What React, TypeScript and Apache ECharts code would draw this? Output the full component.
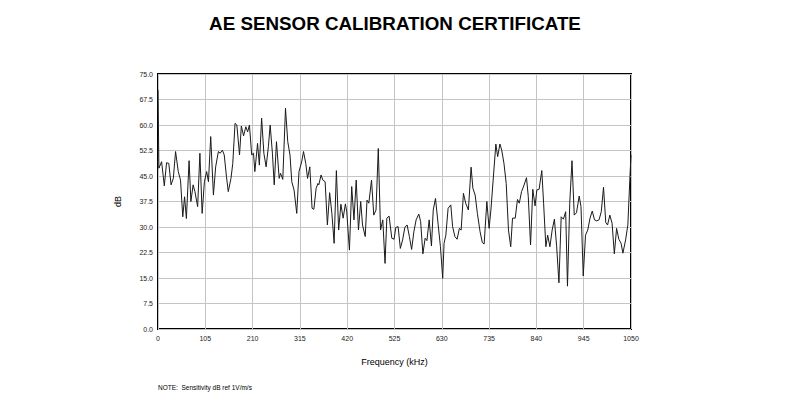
import React, { useEffect, useRef } from "react";
import * as echarts from "echarts";

const titleText = "AE SENSOR CALIBRATION CERTIFICATE";
const noteText = "NOTE:  Sensitivity dB ref 1V/m/s";
const xAxisName = "Frequency (kHz)";
const yAxisName = "dB";

const freqs: number[] = [
  0, 2, 8, 14, 19, 24, 29, 34, 39, 45, 50, 55, 59, 63, 69, 73, 78, 82, 88, 93, 98, 103, 108, 112, 117, 123, 128, 134, 138, 143, 147, 152, 156, 162, 166, 171, 175, 181, 185, 190, 195, 199, 203, 208, 212,
  215, 221, 225, 230, 235, 240, 245, 249, 254, 258, 263, 269, 272, 277, 283, 288, 293, 297, 302, 308, 313, 319, 323, 328, 332, 337, 342, 346, 351, 355, 357, 362, 366, 371, 376, 381, 386, 391, 396, 401, 406, 411, 416,
  419, 425, 430, 435, 440, 445, 450, 454, 460, 464, 468, 474, 479, 484, 489, 494, 499, 504, 508, 513, 519, 524, 528, 533, 538, 543, 548, 553, 558, 563, 568, 573, 579, 583, 588, 593, 597, 602, 607, 611, 616, 622, 627,
  632, 635, 639, 644, 650, 654, 659, 664, 669, 673, 678, 683, 689, 695, 699, 704, 709, 715, 720, 724, 730, 735, 739, 744, 750, 754, 759, 763, 768, 773, 778, 783, 787, 793, 798, 802, 807, 812, 818, 822, 827, 832, 837,
  841, 846, 852, 856, 861, 865, 870, 875, 880, 885, 890, 895, 900, 905, 909, 914, 919, 924, 929, 935, 939, 944, 949, 954, 959, 964, 969, 974, 979, 984, 989, 994, 998, 1003, 1008, 1013, 1018, 1023, 1028, 1032, 1038, 1043, 1048, 1050,
];

const sensitivity: number[] = [
  70.3, 47.3, 49.2, 42.1, 48.9, 48.7, 42.4, 44.3, 52.2, 46.3, 43.8, 33.0, 38.9, 32.5, 49.5, 37.5, 42.4, 40.4, 36.0, 51.7, 34.0, 43.3, 46.3, 43.3, 56.6, 39.4, 47.7, 52.2, 51.7, 52.6, 51.2, 44.8, 40.4, 44.3, 48.7, 60.5, 60.0, 51.2, 59.7, 56.8, 59.5, 58.0, 60.0, 51.2, 51.7,
  46.3, 54.6, 48.2, 62.0, 51.7, 47.7, 53.6, 60.0, 51.7, 42.4, 55.1, 44.3, 45.8, 44.0, 64.9, 55.1, 51.2, 43.3, 40.9, 34.0, 46.3, 49.2, 52.2, 48.7, 44.3, 47.7, 35.5, 35.2, 41.4, 42.8, 42.4, 45.3, 43.8, 43.3, 30.6, 40.1, 34.0, 25.2, 46.6, 29.1, 36.7, 32.6, 36.8,
  34.5, 23.2, 41.9, 32.1, 43.8, 29.1, 37.5, 30.6, 27.2, 37.9, 37.0, 43.8, 33.5, 35.0, 53.1, 29.1, 32.1, 19.3, 32.6, 33.2, 26.7, 26.4, 29.9, 30.1, 23.7, 26.2, 29.9, 30.6, 27.2, 23.4, 28.6, 32.1, 33.8, 31.6, 22.1, 26.7, 26.0, 32.1, 24.4, 35.0, 38.4, 30.6, 24.2,
  14.9, 25.2, 27.6, 35.5, 36.5, 30.1, 27.2, 26.4, 29.6, 29.1, 39.9, 37.0, 35.0, 47.6, 41.4, 39.4, 34.0, 28.6, 25.4, 25.0, 37.5, 29.6, 35.0, 43.8, 54.4, 50.7, 54.4, 52.6, 48.7, 42.8, 29.1, 24.2, 32.6, 32.6, 38.1, 37.0, 40.4, 42.1, 44.5, 38.9, 24.7, 41.1, 36.2,
  40.9, 41.1, 46.6, 37.0, 24.2, 27.6, 24.2, 29.1, 32.3, 24.2, 13.6, 33.0, 32.3, 34.5, 12.6, 37.0, 49.5, 33.5, 34.2, 39.1, 36.0, 15.6, 27.6, 29.1, 32.6, 34.7, 32.1, 31.8, 32.1, 34.5, 41.7, 31.3, 30.6, 33.5, 31.1, 22.1, 29.6, 26.4, 25.2, 22.3, 26.2, 30.6, 45.8, 51.2,
];

const xMin = 0;
const xMax = 1050;
const xStep = 105;
const yMin = 0;
const yMax = 75;
const yStep = 7.5;

const FONT = "'Liberation Sans', Arial, sans-serif";

export default function App() {
  const ref = useRef<HTMLDivElement>(null);
  useEffect(() => {
    if (!ref.current) return;
    const chart = echarts.init(ref.current, null, { renderer: "svg" });
    const data = freqs.map((f, i) => [f, sensitivity[i]]);
    chart.setOption({
      animation: false,
      backgroundColor: "#ffffff",
      title: {
        text: titleText,
        left: "center",
        top: 9,
        textStyle: { fontFamily: FONT, fontSize: 18.8, fontWeight: "bold", color: "#000" },
      },
      grid: {
        left: 158,
        right: 159,
        top: 74,
        bottom: 69,
        show: true,
        borderColor: "#000",
        borderWidth: 2,
        backgroundColor: "transparent",
      },
      xAxis: {
        type: "value",
        min: xMin,
        max: xMax,
        interval: xStep,
        name: xAxisName,
        nameLocation: "middle",
        nameGap: 28,
        nameTextStyle: { fontFamily: FONT, fontSize: 9, color: "#000" },
        axisLine: { show: false },
        axisTick: { show: false },
        axisLabel: {
          fontFamily: FONT,
          fontSize: 7,
          color: "#222",
          margin: 6,
          formatter: (v: number) => String(v),
        },
        splitLine: { show: true, lineStyle: { color: "#c4c4c4", width: 1 } },
      },
      yAxis: {
        type: "value",
        min: yMin,
        max: yMax,
        interval: yStep,
        name: yAxisName,
        nameLocation: "middle",
        nameGap: 36,
        nameTextStyle: { fontFamily: FONT, fontSize: 9, color: "#000" },
        axisLine: { show: false },
        axisTick: { show: false },
        axisLabel: {
          fontFamily: FONT,
          fontSize: 7,
          color: "#222",
          margin: 5,
          formatter: (v: number) => v.toFixed(1),
        },
        splitLine: { show: true, lineStyle: { color: "#c4c4c4", width: 1 } },
      },
      graphic: [
        {
          type: "text",
          left: 158,
          top: 384,
          style: { text: noteText, fontFamily: FONT, fontSize: 6.5, fill: "#000" },
        },
      ],
      series: [
        {
          type: "line",
          data,
          symbol: "none",
          lineStyle: { color: "#1a1a1a", width: 1 },
          z: 3,
        },
      ],
    });
    return () => chart.dispose();
  }, []);
  return (
    <div
      ref={ref}
      style={{ position: "fixed", left: 0, top: 0, width: 790, height: 398 }}
    />
  );
}
